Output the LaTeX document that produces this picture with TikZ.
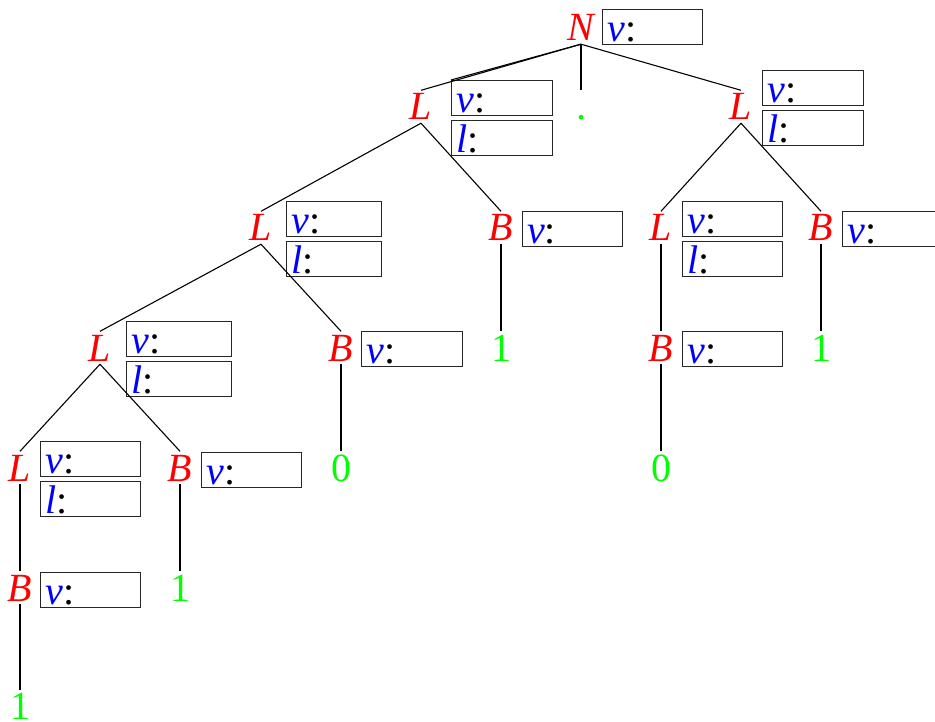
\documentclass[tikz,border=0pt]{standalone}
\usepackage{fontspec}
\setmainfont{Liberation Serif}
\definecolor{kindred}{RGB}{255,0,0}
\definecolor{fieldblue}{RGB}{0,0,255}
\definecolor{leafgreen}{RGB}{0,255,0}
\newcommand{\vfield}{\textcolor{fieldblue}{\itshape v}:}
\newcommand{\lfield}{\textcolor{fieldblue}{\itshape l}:}
\begin{document}
\begin{tikzpicture}[x=1pt,y=-1pt,
  every node/.style={font=\fontsize{40}{48}\selectfont},
  kind/.style={text=kindred, font=\fontsize{40}{48}\selectfont\itshape,
    inner xsep=0pt, inner ysep=3pt, text height=26.5pt, text depth=0pt, anchor=base},
  leaf/.style={text=leafgreen, inner xsep=0pt, inner ysep=3pt,
    text height=26.5pt, text depth=0pt, anchor=base},
  field/.style={draw=black!85, line width=1.4pt, anchor=north west,
    inner xsep=5pt, inner ysep=0pt, text height=31.5pt, text depth=3.5pt,
    text width=#1, align=left},
  field/.default=90pt,
  edge/.style={line width=1.1pt, black}]
\useasboundingbox (0,0) rectangle (935,722);

% root
\node[kind] (n0) at (581,41) {N};
\node[field] (n0v) at (602,9) {\vfield};

% level 1
\node[kind] (l1a) at (421,120) {L};
\node[field=91pt] (l1av) at (451,80) {\vfield};
\node[field=91pt] (l1al) at (451,120) {\lfield};
\node[leaf] (dot) at (581,120) {.};
\node[kind] (l1b) at (741,120) {L};
\node[field=91pt] (l1bv) at (762,70) {\vfield};
\node[field=91pt] (l1bl) at (762,110) {\lfield};

% level 2
\node[kind] (l2a) at (261,241) {L};
\node[field=85pt] (l2av) at (286,201) {\vfield};
\node[field=85pt] (l2al) at (286,241) {\lfield};
\node[kind] (b2a) at (501,241) {B};
\node[field] (b2av) at (521.5,211) {\vfield};
\node[kind] (l2b) at (661,241) {L};
\node[field] (l2bv) at (682,201) {\vfield};
\node[field] (l2bl) at (682,241) {\lfield};
\node[kind] (b2b) at (821,241) {B};
\node[field] (b2bv) at (842,211) {\vfield};

% level 3
\node[kind] (l3) at (100,361) {L};
\node[field=95pt] (l3v) at (126,321) {\vfield};
\node[field=95pt] (l3l) at (126,361) {\lfield};
\node[kind] (b3a) at (341,361) {B};
\node[field=91pt] (b3av) at (361,331) {\vfield};
\node[leaf] (one1) at (501,361) {1};
\node[kind] (b3b) at (661,361) {B};
\node[field] (b3bv) at (682,331) {\vfield};
\node[leaf] (one2) at (821,361) {1};

% level 4
\node[kind] (l4) at (20,481) {L};
\node[field] (l4v) at (40,441) {\vfield};
\node[field] (l4l) at (40,481) {\lfield};
\node[kind] (b4) at (180,481) {B};
\node[field] (b4v) at (201,452) {\vfield};
\node[leaf] (zero1) at (341,481) {0};
\node[leaf] (zero2) at (661,481) {0};

% level 5
\node[kind] (b5) at (20,601) {B};
\node[field] (b5v) at (40,572) {\vfield};
\node[leaf] (one3) at (180,601) {1};

% level 6
\node[leaf] (one4) at (20,719.5) {1};

% connectors
\draw[edge] (n0.south) -- (l1a.north);
\draw[edge] (n0.south) -- (l1av.north west);
\draw[edge] (n0.south) -- (dot.north);
\draw[edge] (n0.south) -- (l1b.north);

\draw[edge] (l1a.south) -- (l2a.north);
\draw[edge] (l1a.south) -- (b2a.north);
\draw[edge] (l1b.south) -- (l2b.north);
\draw[edge] (l1b.south) -- (b2b.north);

\draw[edge] (l2a.south) -- (l3.north);
\draw[edge] (l2a.south) -- (b3a.north);
\draw[edge] (b2a.south) -- (one1.north);
\draw[edge] (l2b.south) -- (b3b.north);
\draw[edge] (b2b.south) -- (one2.north);

\draw[edge] (l3.south) -- (l4.north);
\draw[edge] (l3.south) -- (b4.north);
\draw[edge] (b3a.south) -- (zero1.north);
\draw[edge] (b3b.south) -- (zero2.north);

\draw[edge] (l4.south) -- (b5.north);
\draw[edge] (b4.south) -- (one3.north);
\draw[edge] (b5.south) -- (one4.north);
\end{tikzpicture}
\end{document}
